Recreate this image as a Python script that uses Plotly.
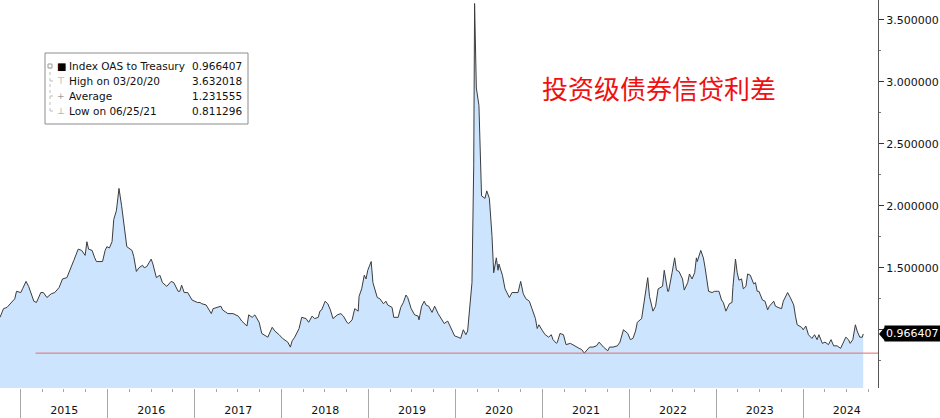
import pandas as pd
import plotly.graph_objects as go

# sample times (decimal years) and index OAS to Treasury (%)
t_year = [
    2014.76, 2014.80, 2014.84, 2014.90, 2014.93, 2014.95,
    # 2015
    2015.00, 2015.02, 2015.06, 2015.09, 2015.15, 2015.18, 2015.23, 2015.26, 2015.30, 2015.35,
    2015.39, 2015.44, 2015.48, 2015.53, 2015.58, 2015.61, 2015.66, 2015.70, 2015.74, 2015.76,
    2015.78, 2015.82, 2015.85, 2015.87, 2015.94, 2015.97, 2015.99,
    # 2016
    2016.02, 2016.05, 2016.07, 2016.10, 2016.13, 2016.16, 2016.19, 2016.22, 2016.28, 2016.30,
    2016.33, 2016.36, 2016.40, 2016.42, 2016.45, 2016.50, 2016.52, 2016.56, 2016.60, 2016.63,
    2016.68, 2016.73, 2016.76, 2016.81, 2016.83, 2016.85, 2016.88, 2016.92, 2016.97,
    # 2017
    2017.03, 2017.06, 2017.08, 2017.13, 2017.15, 2017.19, 2017.21, 2017.26, 2017.30, 2017.32,
    2017.38, 2017.44, 2017.50, 2017.54, 2017.59, 2017.60, 2017.62, 2017.66, 2017.69, 2017.74,
    2017.77, 2017.84, 2017.89, 2017.92, 2017.97,
    # 2018
    2018.01, 2018.07, 2018.10, 2018.12, 2018.15, 2018.20, 2018.23, 2018.28, 2018.31, 2018.35,
    2018.38, 2018.42, 2018.44, 2018.46, 2018.50, 2018.53, 2018.56, 2018.59, 2018.64, 2018.68,
    2018.71, 2018.75, 2018.77, 2018.81, 2018.84, 2018.88, 2018.89, 2018.92, 2018.95, 2018.97,
    2018.99,
    # 2019
    2019.03, 2019.05, 2019.10, 2019.13, 2019.17, 2019.20, 2019.22, 2019.27, 2019.29, 2019.34,
    2019.37, 2019.40, 2019.43, 2019.45, 2019.49, 2019.53, 2019.57, 2019.58, 2019.61, 2019.64,
    2019.66, 2019.69, 2019.73, 2019.76, 2019.80, 2019.84, 2019.87, 2019.91, 2019.95, 2019.99,
    # 2020
    2020.03, 2020.06, 2020.09, 2020.12, 2020.14, 2020.19, 2020.21, 2020.22, 2020.24, 2020.27,
    2020.30, 2020.32, 2020.34, 2020.36, 2020.39, 2020.42, 2020.44, 2020.47, 2020.49, 2020.50,
    2020.54, 2020.57, 2020.59, 2020.62, 2020.65, 2020.69, 2020.72, 2020.75, 2020.78, 2020.81,
    2020.85, 2020.88, 2020.92, 2020.94, 2020.96,
    # 2021
    2021.00, 2021.03, 2021.07, 2021.10, 2021.12, 2021.16, 2021.17, 2021.20, 2021.24, 2021.27,
    2021.32, 2021.38, 2021.42, 2021.45, 2021.48, 2021.54, 2021.58, 2021.62, 2021.65, 2021.70,
    2021.75, 2021.77, 2021.81, 2021.86, 2021.89, 2021.93, 2021.98,
    # 2022
    2022.01, 2022.04, 2022.07, 2022.09, 2022.14, 2022.16, 2022.18, 2022.21, 2022.23, 2022.27,
    2022.30, 2022.33, 2022.38, 2022.40, 2022.44, 2022.45, 2022.49, 2022.52, 2022.54, 2022.57,
    2022.61, 2022.63, 2022.67, 2022.69, 2022.72, 2022.75, 2022.77, 2022.78, 2022.82, 2022.85,
    2022.87, 2022.91, 2022.95, 2022.98,
    # 2023
    2023.01, 2023.03, 2023.06, 2023.08, 2023.11, 2023.15, 2023.18, 2023.19, 2023.22, 2023.24,
    2023.26, 2023.29, 2023.31, 2023.34, 2023.36, 2023.39, 2023.43, 2023.45, 2023.47, 2023.49,
    2023.53, 2023.56, 2023.59, 2023.61, 2023.66, 2023.68, 2023.71, 2023.75, 2023.77, 2023.82,
    2023.85, 2023.89, 2023.91, 2023.93, 2023.98,
    # 2024
    2024.00, 2024.03, 2024.06, 2024.10, 2024.13, 2024.16, 2024.18, 2024.22, 2024.25, 2024.29,
    2024.32, 2024.35, 2024.39, 2024.43, 2024.46, 2024.49, 2024.52, 2024.54, 2024.57, 2024.60,
    2024.62, 2024.65, 2024.68, 2024.69,
]
oas = [
    1.10, 1.17, 1.18, 1.23, 1.25, 1.31,
    # 2015
    1.30, 1.33, 1.39, 1.35, 1.23, 1.22, 1.30, 1.30, 1.26, 1.29,
    1.30, 1.34, 1.41, 1.42, 1.50, 1.56, 1.65, 1.64, 1.60, 1.71,
    1.65, 1.64, 1.58, 1.55, 1.55, 1.64, 1.67,
    # 2016
    1.66, 1.71, 1.89, 1.96, 2.14, 2.00, 1.84, 1.67, 1.64, 1.59,
    1.47, 1.50, 1.52, 1.50, 1.51, 1.57, 1.53, 1.42, 1.44, 1.38,
    1.35, 1.39, 1.38, 1.31, 1.31, 1.36, 1.30, 1.30, 1.24,
    # 2017
    1.22, 1.22, 1.21, 1.20, 1.18, 1.13, 1.17, 1.18, 1.19, 1.16,
    1.13, 1.13, 1.11, 1.07, 1.03, 1.03, 1.12, 1.10, 1.12, 1.06,
    0.97, 0.94, 1.02, 0.99, 0.96,
    # 2018
    0.93, 0.90, 0.86, 0.91, 0.94, 1.01, 1.10, 1.09, 1.06, 1.11,
    1.09, 1.10, 1.15, 1.16, 1.23, 1.21, 1.16, 1.09, 1.12, 1.13,
    1.11, 1.06, 1.05, 1.08, 1.17, 1.15, 1.27, 1.33, 1.44, 1.41,
    1.48,
    # 2019
    1.55, 1.38, 1.26, 1.25, 1.21, 1.23, 1.20, 1.18, 1.10, 1.10,
    1.18, 1.22, 1.28, 1.26, 1.17, 1.12, 1.11, 1.08, 1.19, 1.23,
    1.20, 1.19, 1.14, 1.19, 1.13, 1.09, 1.05, 1.07, 1.01, 0.95,
    # 2020
    0.94, 0.93, 1.00, 0.96, 0.99, 1.38, 2.33, 3.632018, 2.95, 2.81,
    2.08, 2.07, 2.06, 2.12, 2.06, 1.76, 1.46, 1.58, 1.48, 1.53,
    1.44, 1.33, 1.30, 1.26, 1.30, 1.30, 1.30, 1.39, 1.29, 1.25,
    1.23, 1.17, 1.09, 1.01, 1.04,
    # 2021
    0.99, 0.96, 0.94, 0.96, 0.92, 0.89, 0.90, 0.97, 0.96, 0.88,
    0.89, 0.87, 0.85, 0.84, 0.811296, 0.86, 0.86, 0.87, 0.90, 0.86,
    0.83, 0.86, 0.86, 0.87, 0.90, 1.00, 0.97,
    # 2022
    0.92, 0.93, 0.99, 1.06, 1.09, 1.19, 1.27, 1.42, 1.27, 1.15,
    1.19, 1.33, 1.35, 1.48, 1.31, 1.31, 1.46, 1.58, 1.48, 1.47,
    1.41, 1.32, 1.38, 1.45, 1.41, 1.46, 1.58, 1.55, 1.64, 1.58,
    1.50, 1.31, 1.30, 1.31,
    # 2023
    1.31, 1.31, 1.24, 1.22, 1.15, 1.21, 1.22, 1.34, 1.57, 1.46,
    1.40, 1.41, 1.33, 1.35, 1.45, 1.44, 1.37, 1.38, 1.31, 1.31,
    1.24, 1.23, 1.16, 1.19, 1.23, 1.19, 1.18, 1.17, 1.23, 1.30,
    1.26, 1.20, 1.11, 1.04, 1.02,
    # 2024
    1.00, 1.03, 0.96, 0.93, 0.96, 0.92, 0.96, 0.89, 0.90, 0.88,
    0.92, 0.87, 0.87, 0.85, 0.90, 0.94, 0.92, 0.89, 0.92, 1.04,
    0.99, 0.94, 0.94, 0.966407,
]

last_value = 0.966407
high_value = 3.632018
average_value = 1.231555
low_value = 0.811296
low_line_start = 2015.17
axis_start, axis_end = 2014.76, 2024.86

y_ticks = [1.0, 1.5, 2.0, 2.5, 3.0, 3.5]
y_range = [0.53, 3.66]

legend_symbols = ["■", "⊤", "+", "⊥"]
legend_labels = ["Index OAS to Treasury", "High on 03/20/20", "Average", "Low on 06/25/21"]
legend_values = [last_value, high_value, average_value, low_value]

title_text = "投资级债券信贷利差"

FONT = "DejaVu Sans"
PLOT_W, PLOT_H = 878, 388  # plot area in pixels (margins l=0, t=0)


def to_date(t):
    year = int(t)
    return pd.Timestamp(year=year, month=1, day=1) + pd.Timedelta(days=(t - year) * 365.25)


def px(x):
    return x / PLOT_W


def py(y):
    return 1 - y / PLOT_H


dates = [to_date(t) for t in t_year]

fig = go.Figure()

# area + line
fig.add_trace(go.Scatter(
    x=dates, y=oas,
    mode='lines',
    line=dict(color='#3c3c3c', width=1),
    fill='tozeroy',
    fillcolor='#cce4fd',
    hoverinfo='skip',
    showlegend=False
))

# low line
fig.add_trace(go.Scatter(
    x=[to_date(low_line_start), to_date(axis_end)],
    y=[low_value, low_value],
    mode='lines',
    line=dict(color='#e36b6b', width=1),
    hoverinfo='skip',
    showlegend=False
))

annotations = []
shapes = []

# title
annotations.append(dict(
    text=title_text, xref='paper', yref='paper', x=px(659), y=py(88),
    xanchor='center', yanchor='middle', showarrow=False,
    font=dict(family='Noto Sans CJK SC', size=26, color='#f01010')
))

# legend box
shapes.append(dict(
    type='rect', xref='paper', yref='paper',
    x0=px(45), x1=px(248), y0=py(124), y1=py(53),
    line=dict(color='#8c8c8c', width=1), fillcolor='white', layer='above'
))
shapes.append(dict(
    type='line', xref='paper', yref='paper',
    x0=px(50), x1=px(50), y0=py(66), y1=py(111),
    line=dict(color='#bdbdbd', width=1, dash='dot'), layer='above'
))
shapes.append(dict(
    type='rect', xref='paper', yref='paper',
    x0=px(48), x1=px(52), y0=py(68), y1=py(64),
    line=dict(color='#9a9a9a', width=1), fillcolor='white', layer='above'
))
for i, (sym, lab, val) in enumerate(zip(legend_symbols, legend_labels, legend_values)):
    row_y = py(66 + 15 * i)
    if i > 0:
        shapes.append(dict(
            type='line', xref='paper', yref='paper',
            x0=px(50), x1=px(55), y0=row_y, y1=row_y,
            line=dict(color='#bdbdbd', width=1, dash='dot'), layer='above'
        ))
    annotations.append(dict(
        text=sym, xref='paper', yref='paper', x=px(61), y=row_y,
        xanchor='center', yanchor='middle', showarrow=False,
        font=dict(family=FONT, size=10 if i == 0 else 9, color='#000' if i == 0 else '#9a9a9a')
    ))
    annotations.append(dict(
        text=lab, xref='paper', yref='paper', x=px(67), y=row_y,
        xanchor='left', yanchor='middle', showarrow=False,
        font=dict(family=FONT, size=10.5, color='#111')
    ))
    annotations.append(dict(
        text=f"{val:.6f}", xref='paper', yref='paper', x=px(244), y=row_y,
        xanchor='right', yanchor='middle', showarrow=False,
        font=dict(family=FONT, size=10.5, color='#111')
    ))

# last value tag on the right axis
shapes.append(dict(
    type='path', xref='paper', yref='y',
    path=(f"M {px(879)},{last_value} L {px(885)},{last_value + 7 / 124} "
          f"L {px(885)},{last_value - 7 / 124} Z"),
    fillcolor='black', line=dict(width=0), layer='above'
))
annotations.append(dict(
    text=f"{last_value:.6f}", xref='paper', yref='y', x=1, y=last_value,
    xanchor='left', yanchor='middle', xshift=6, showarrow=False,
    bgcolor='black', borderpad=1,
    font=dict(family=FONT, size=11, color='white')
))

fig.update_layout(
    width=940, height=418,
    margin=dict(l=0, r=62, t=0, b=30),
    paper_bgcolor='white',
    plot_bgcolor='white',
    showlegend=False,
    xaxis=dict(
        type='date',
        range=[to_date(axis_start), to_date(axis_end)],
        tickmode='linear', tick0='2015-01-01', dtick='M12',
        tickformat='%Y', ticklabelmode='period',
        ticks='outside', ticklen=30, tickwidth=1, tickcolor='#a8a8a8',
        ticklabelstandoff=-18,
        minor=dict(ticks='outside', tick0='2015-01-01', dtick='M3',
                   ticklen=3, tickcolor='#a8a8a8'),
        showline=False, showgrid=False, zeroline=False,
        tickfont=dict(family=FONT, size=11, color='#111')
    ),
    yaxis=dict(
        side='right', range=y_range,
        tickmode='array', tickvals=y_ticks, tickformat='.6f',
        ticks='outside', ticklen=5, tickcolor='#333',
        minor=dict(ticks='outside', tick0=0, dtick=0.25, ticklen=2, tickcolor='#777'),
        showline=True, linecolor='#555', linewidth=1,
        showgrid=False, zeroline=False,
        tickfont=dict(family=FONT, size=11, color='#111')
    ),
    shapes=shapes,
    annotations=annotations
)

# drop the default 8px body margin so the figure sits flush in the window
fig.write_html("out.html", config={'displayModeBar': False},
               post_script="document.body.style.margin='0';")
